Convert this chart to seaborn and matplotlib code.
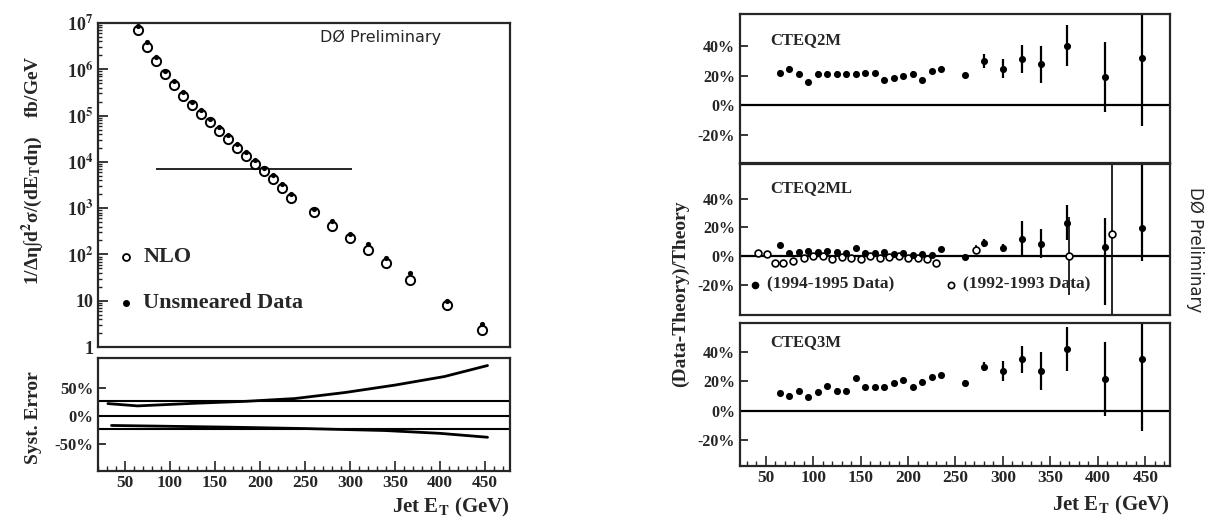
import matplotlib
matplotlib.use("Agg")
import matplotlib.pyplot as plt
import seaborn as sns
import numpy as np
from matplotlib.ticker import FixedLocator, NullFormatter, LogLocator, MultipleLocator

# ---------------- data ----------------
et = [65, 75, 85, 95, 105, 115, 125, 135, 145, 155, 165, 175, 185, 195, 205, 215, 225, 235,
      260, 280, 300, 320, 340, 367, 408, 447]

nlo = [7.1e6, 3.1e6, 1.5e6, 8.1e5, 4.6e5, 2.7e5, 1.66e5, 1.07e5, 7.1e4, 4.7e4, 3.1e4, 2.0e4,
       1.35e4, 9.1e3, 6.2e3, 4.2e3, 2.75e3, 1.66e3, 810, 420, 224, 126, 65, 28, 8.1, 2.3]
unsmeared = [8.6e6, 3.8e6, 1.8e6, 9.4e5, 5.6e5, 3.3e5, 2.0e5, 1.30e5, 8.6e4, 5.7e4, 3.8e4, 2.4e4,
             1.6e4, 1.08e4, 7.4e3, 5.1e3, 3.4e3, 2.05e3, 980, 540, 280, 165, 84, 40, 9.8, 3.1]

syst_up_et = [31, 64, 128, 185, 239, 295, 350, 405, 453]
syst_up = [21.9, 17.8, 22.5, 26.0, 30.9, 41.7, 54.8, 70.0, 89.6]
syst_lo_et = [35, 100, 165, 250, 339, 400, 453]
syst_lo = [-17.0, -18.5, -20.0, -22.5, -26.0, -31.0, -38.0]
syst_ref = [26, 0, -23]

cteq2m = [22.3, 25.0, 21.6, 15.9, 21.6, 21.6, 21.6, 21.2, 21.6, 22.0, 22.0, 17.5, 18.6, 19.8,
          21.6, 17.0, 23.2, 24.6, 20.5, 30.2, 25.0, 31.2, 28.0, 40.5, 19.3, 31.9]
cteq2m_err = [1.5] * 18 + [1.5, 5.0, 6.5, 9.5, 12.5, 14.0, 23.5, 46.0]

cteq2ml = [8.0, 2.0, 3.0, 3.5, 3.0, 3.5, 3.0, 2.5, 5.5, 2.0, 2.0, 3.0, 1.5, 2.0, 1.0, 1.5, 1.0, 5.0,
           -0.7, 9.2, 5.7, 12.1, 8.7, 23.3, 6.4, 19.4]
cteq2ml_err_lo = [1.5] * 18 + [2.0, 3.0, 3.0, 12.5, 10.0, 12.0, 40.0, 23.0]
cteq2ml_err_hi = [1.5] * 18 + [2.0, 3.0, 3.0, 12.5, 10.0, 12.0, 20.5, 61.6]

et_old = [42, 51, 60, 68, 79, 90, 100, 110, 120, 130, 140, 150, 160, 170, 180, 190, 200, 210,
          220, 230, 272, 370, 415]
cteq2ml_old = [2.3, 1.6, -4.5, -4.5, -3.4, -1.0, 0.0, 0.5, -1.8, -0.5, -1.5, -2.0, 0.0, -1.0,
               -0.5, 0.0, -1.0, -1.5, -2.0, -4.5, 4.6, 0.0, 15.5]
cteq2ml_old_err = [1.5] * 20 + [3.0, 27.0, 95.0]

cteq3m = [12.1, 10.3, 13.7, 9.1, 12.8, 16.6, 13.7, 13.7, 22.4, 16.2, 16.2, 16.2, 18.6, 20.8,
          16.2, 19.7, 22.8, 24.0, 19.0, 29.9, 27.0, 35.0, 27.0, 41.8, 21.7, 35.4]
cteq3m_err = [1.5] * 18 + [2.0, 3.0, 6.5, 9.3, 12.8, 15.0, 25.0, 49.0]

xticks = [50, 100, 150, 200, 250, 300, 350, 400, 450]
log_ticks = [1, 10, 1e2, 1e3, 1e4, 1e5, 1e6, 1e7]
log_labels = ['1', '10', r'10$^{\mathbf{2}}$', r'10$^{\mathbf{3}}$', r'10$^{\mathbf{4}}$',
              r'10$^{\mathbf{5}}$', r'10$^{\mathbf{6}}$', r'10$^{\mathbf{7}}$']

# ---------------- style ----------------
sns.set_style("ticks")
plt.rcParams['font.family'] = ['Liberation Serif', 'DejaVu Sans']
plt.rcParams['font.weight'] = 'bold'
plt.rcParams['mathtext.fontset'] = 'stix'
plt.rcParams['mathtext.default'] = 'bf'
plt.rcParams['axes.linewidth'] = 1.6
plt.rcParams['xtick.direction'] = 'in'
plt.rcParams['ytick.direction'] = 'in'

W, H = 1209, 520
fig = plt.figure(figsize=(W / 100, H / 100), dpi=100)


def box(x0, y0, x1, y1):
    return [x0 / W, 1 - y1 / H, (x1 - x0) / W, (y1 - y0) / H]


K = 'black'

# ---------- left top: cross section ----------
ax1 = fig.add_axes(box(98, 23, 510, 347))
sns.scatterplot(x=et, y=nlo, ax=ax1, marker='o', s=44, facecolor='white', edgecolor=K,
                linewidth=1.4, zorder=3, legend=False)
sns.scatterplot(x=et, y=unsmeared, ax=ax1, marker='o', s=14, color=K, edgecolor=K,
                linewidth=0, zorder=4, legend=False)
ax1.set_yscale('log')
ax1.set_xlim(20, 478)
ax1.set_ylim(1, 1e7)
ax1.hlines(7.1e3, 85, 302, color=K, lw=1.2)
ax1.yaxis.set_major_locator(FixedLocator(log_ticks))
ax1.set_yticklabels(log_labels, fontsize=13)
ax1.yaxis.set_minor_locator(LogLocator(base=10, subs=(2, 3, 4, 5, 6, 7, 8, 9), numticks=20))
ax1.yaxis.set_minor_formatter(NullFormatter())
ax1.tick_params(axis='y', which='major', length=7, width=1.3)
ax1.tick_params(axis='y', which='minor', length=3, width=1)
ax1.set_xticks([])
ax1.text(0.54, 0.955, 'DØ Preliminary', transform=ax1.transAxes, fontsize=11.5,
         family='DejaVu Sans', weight='normal', va='center', ha='left')
ax1.plot([0.068], [0.278], transform=ax1.transAxes, marker='o', ms=5, mfc='white', mec=K, mew=1.3)
ax1.text(0.11, 0.278, 'NLO', transform=ax1.transAxes, fontsize=16, va='center')
ax1.plot([0.068], [0.136], transform=ax1.transAxes, marker='o', ms=4, color=K)
ax1.text(0.11, 0.136, 'Unsmeared Data', transform=ax1.transAxes, fontsize=16, va='center')

fig.text(33 / W, 1 - 170 / H, r'1/Δη∫d$^2$σ/(dE$_T$dη)    fb/GeV', rotation=90,
         fontsize=14, ha='center', va='center')

# ---------- left bottom: systematic error ----------
ax2 = fig.add_axes(box(98, 358, 510, 471))
for v in syst_ref:
    ax2.axhline(v, color=K, lw=1.5)
sns.lineplot(x=syst_up_et, y=syst_up, ax=ax2, color=K, lw=2.0, estimator=None, sort=True)
sns.lineplot(x=syst_lo_et, y=syst_lo, ax=ax2, color=K, lw=2.0, estimator=None, sort=True)
ax2.set_xlim(20, 478)
ax2.set_ylim(-98, 103)
ax2.set_yticks([50, 0, -50])
ax2.set_yticklabels(['50%', '0%', '-50%'], fontsize=12)
ax2.set_xticks(xticks)
ax2.set_xticklabels([str(v) for v in xticks], fontsize=12.5)
ax2.xaxis.set_minor_locator(MultipleLocator(10))
ax2.tick_params(axis='x', which='major', length=7, width=1.2, pad=3)
ax2.tick_params(axis='x', which='minor', length=3.5, width=1)
ax2.tick_params(axis='y', which='major', length=6, width=1.3)
ax2.set_xlabel('')
ax2.set_ylabel('')
fig.text(33 / W, 1 - 418 / H, 'Syst. Error', rotation=90, fontsize=14, ha='center', va='center')
fig.text(510 / W, 1 - 507 / H, r'Jet E$_{\mathbf{T}}$ (GeV)', fontsize=15, ha='right', va='center')

# ---------- right panels ----------
rights = [
    (box(740, 14, 1170, 163), (-39, 62), 'CTEQ2M', 0.826),
    (box(740, 164, 1170, 315), (-40.7, 64), 'CTEQ2ML', 0.84),
    (box(740, 323, 1170, 466), (-37.6, 59.6), 'CTEQ3M', 0.867),
]
axes_r = []
for pos, yl, name, ty in rights:
    ax = fig.add_axes(pos)
    ax.set_xlim(23, 476)
    ax.set_ylim(*yl)
    ax.axhline(0, color=K, lw=1.6, zorder=1)
    ax.set_yticks([40, 20, 0, -20])
    ax.set_yticklabels(['40%', '20%', '0%', '-20%'], fontsize=11.5)
    ax.tick_params(axis='y', which='major', length=6, width=1.3)
    ax.text(0.07, ty, name, transform=ax.transAxes, fontsize=12, va='center', ha='left')
    axes_r.append(ax)

# CTEQ2M
a = axes_r[0]
a.errorbar(et, cteq2m, yerr=cteq2m_err, fmt='none', ecolor=K, elinewidth=1.6, capsize=0)
sns.scatterplot(x=et, y=cteq2m, ax=a, marker='o', s=26, color=K, edgecolor=K, linewidth=0,
                zorder=3, legend=False)
a.set_xticks([])

# CTEQ2ML
a = axes_r[1]
a.errorbar(et_old, cteq2ml_old, yerr=cteq2ml_old_err, fmt='none', ecolor=K, elinewidth=1.2,
           capsize=0)
a.errorbar(et, cteq2ml, yerr=[cteq2ml_err_lo, cteq2ml_err_hi], fmt='none', ecolor=K,
           elinewidth=1.6, capsize=0)
sns.scatterplot(x=et_old, y=cteq2ml_old, ax=a, marker='o', s=24, facecolor='white', edgecolor=K,
                linewidth=1.2, zorder=3, legend=False)
sns.scatterplot(x=et, y=cteq2ml, ax=a, marker='o', s=26, color=K, edgecolor=K, linewidth=0,
                zorder=4, legend=False)
a.set_xticks([])
a.plot([0.035], [0.2], transform=a.transAxes, marker='o', ms=4.5, color=K)
a.text(0.063, 0.2, '(1994-1995 Data)', transform=a.transAxes, fontsize=12.5, va='center')
a.plot([0.49], [0.2], transform=a.transAxes, marker='o', ms=4.5, mfc='white', mec=K, mew=1.2)
a.text(0.518, 0.2, '(1992-1993 Data)', transform=a.transAxes, fontsize=12.5, va='center')

# CTEQ3M
a = axes_r[2]
a.errorbar(et, cteq3m, yerr=cteq3m_err, fmt='none', ecolor=K, elinewidth=1.6, capsize=0)
sns.scatterplot(x=et, y=cteq3m, ax=a, marker='o', s=26, color=K, edgecolor=K, linewidth=0,
                zorder=3, legend=False)
a.set_xticks(xticks)
a.set_xticklabels([str(v) for v in xticks], fontsize=12.5)
a.xaxis.set_minor_locator(MultipleLocator(10))
a.tick_params(axis='x', which='major', length=7, width=1.2, pad=3)
a.tick_params(axis='x', which='minor', length=3.5, width=1)

for a in axes_r:
    a.set_xlabel('')
    a.set_ylabel('')

fig.text(680 / W, 1 - 294 / H, '(Data-Theory)/Theory', rotation=90, fontsize=14,
         ha='center', va='center')
fig.text(1170 / W, 1 - 505 / H, r'Jet E$_{\mathbf{T}}$ (GeV)', fontsize=15, ha='right', va='center')
fig.text(1195 / W, 1 - 250 / H, 'DØ Preliminary', rotation=-90, fontsize=12,
         family='DejaVu Sans', weight='normal', ha='center', va='center')

fig.savefig('out.png', dpi=100, facecolor='white')
